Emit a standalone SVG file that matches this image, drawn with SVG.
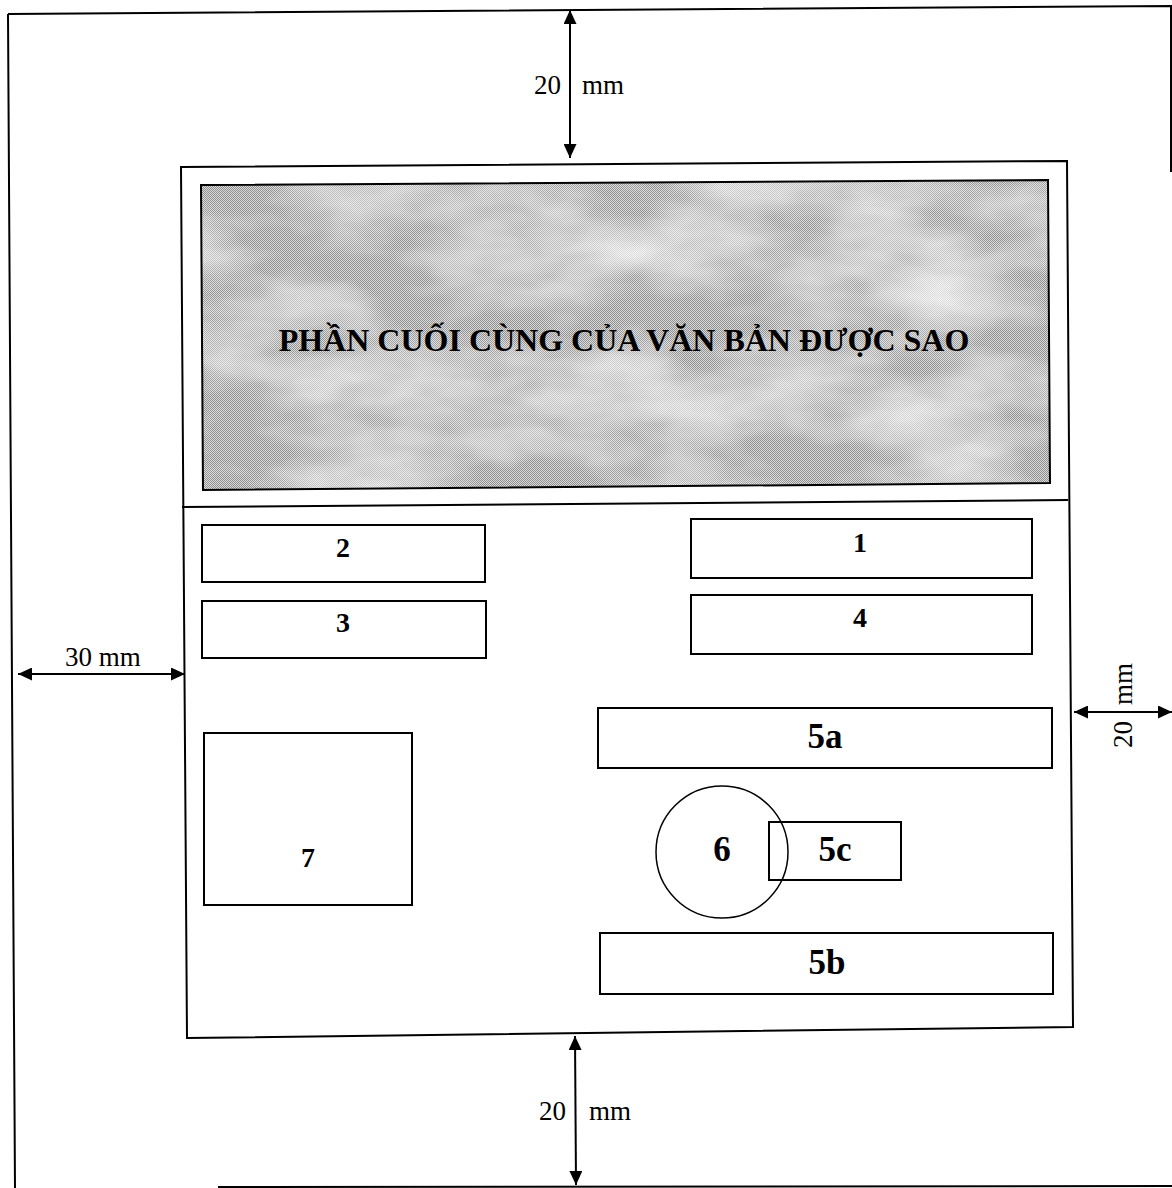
<svg xmlns="http://www.w3.org/2000/svg" width="1172" height="1188" viewBox="0 0 1172 1188">
<style>
.ln{fill:none;stroke:#000;stroke-width:2}
.bx{fill:#fff;stroke:#000;stroke-width:2}
.dim{font-family:"Liberation Serif","Times New Roman",serif;font-size:27px;fill:#000}
.lab{font-family:"Liberation Serif","Times New Roman",serif;font-weight:bold;font-size:28px;fill:#000;text-anchor:middle}
.big{font-size:35px}
.title{font-family:"Liberation Serif","Times New Roman",serif;font-weight:bold;font-size:32px;fill:#000;text-anchor:middle}
</style>
<defs>
<marker id="ah" viewBox="0 0 10 10" refX="10" refY="5" markerWidth="14" markerHeight="13" orient="auto-start-reverse" markerUnits="userSpaceOnUse" preserveAspectRatio="none">
<path d="M0,0 L10,5 L0,10 z" fill="#000"/>
</marker>
<pattern id="chk" width="2" height="2" patternUnits="userSpaceOnUse">
<rect width="2" height="2" fill="#dadada"/>
<rect width="1" height="1" fill="#8e8e8e"/>
<rect x="1" y="1" width="1" height="1" fill="#8e8e8e"/>
</pattern>
<filter id="cloud" x="0" y="0" width="100%" height="100%">
<feTurbulence type="fractalNoise" baseFrequency="0.006 0.014" numOctaves="4" seed="7" result="n"/>
<feColorMatrix in="n" type="matrix" values="0 0 0 0 1  0 0 0 0 1  0 0 0 0 1  1.4 0 0 0 -0.5" result="w"/>
<feComposite in="w" in2="SourceGraphic" operator="atop"/>
</filter>
</defs>
<rect width="1172" height="1188" fill="#fff"/>
<g id="page">
<path class="ln" d="M8,14 L1171,6 L1171,172 M8,14 L15,1188 M218,1187 L1172,1186"/>
</g>
<g id="frame">
<path class="ln" d="M181,167 L1067,161 L1073,1027 L187,1038 Z"/>
<path class="ln" d="M182,507 L1068,500"/>
</g>
<g id="title">
<path d="M201,185 L1048,180 L1050,483 L203,490 Z" fill="url(#chk)" filter="url(#cloud)"/>
<path class="ln" d="M201,185 L1048,180 L1050,483 L203,490 Z"/>
<text class="title" x="624" y="351">PHẦN CUỐI CÙNG CỦA VĂN BẢN ĐƯỢC SAO</text>
</g>
<g id="n2"><rect class="bx" x="202" y="525" width="283" height="57"/><text class="lab" x="343" y="557">2</text></g>
<g id="n3"><rect class="bx" x="202" y="601" width="284" height="57"/><text class="lab" x="343" y="632">3</text></g>
<g id="n1"><rect class="bx" x="691" y="519" width="341" height="59"/><text class="lab" x="860" y="552">1</text></g>
<g id="n4"><rect class="bx" x="691" y="595" width="341" height="59"/><text class="lab" x="860" y="627">4</text></g>
<g id="n7"><rect class="bx" x="204" y="733" width="208" height="172"/><text class="lab" x="308" y="867">7</text></g>
<g id="n5a"><rect class="bx" x="598" y="708" width="454" height="60"/><text class="lab big" x="825" y="748">5a</text></g>
<g id="n5b"><rect class="bx" x="600" y="933" width="453" height="61"/><text class="lab big" x="827" y="974">5b</text></g>
<g id="n5c"><rect class="bx" x="769" y="822" width="132" height="58"/><text class="lab big" x="835" y="861">5c</text></g>
<g id="n6"><circle cx="722" cy="852" r="66" fill="none" stroke="#000" stroke-width="1.5"/><text class="lab big" x="722" y="861">6</text></g>
<g id="connectors">
<line class="ln" x1="570" y1="10" x2="570" y2="158" marker-start="url(#ah)" marker-end="url(#ah)"/>
<line class="ln" x1="18" y1="674" x2="185" y2="674" marker-start="url(#ah)" marker-end="url(#ah)"/>
<line class="ln" x1="1074" y1="712" x2="1172" y2="712" marker-start="url(#ah)" marker-end="url(#ah)"/>
<line class="ln" x1="575" y1="1036" x2="576" y2="1185" marker-start="url(#ah)" marker-end="url(#ah)"/>
</g>
<g id="labels">
<text class="dim" x="561" y="94" text-anchor="end">20</text>
<text class="dim" x="582" y="94">mm</text>
<text class="dim" x="103" y="666" text-anchor="middle">30 mm</text>
<text class="dim" x="566" y="1120" text-anchor="end">20</text>
<text class="dim" x="589" y="1120">mm</text>
<text class="dim" transform="translate(1132,705) rotate(-90)" text-anchor="start">mm</text>
<text class="dim" transform="translate(1132,721) rotate(-90)" text-anchor="end">20</text>
</g>
</svg>
